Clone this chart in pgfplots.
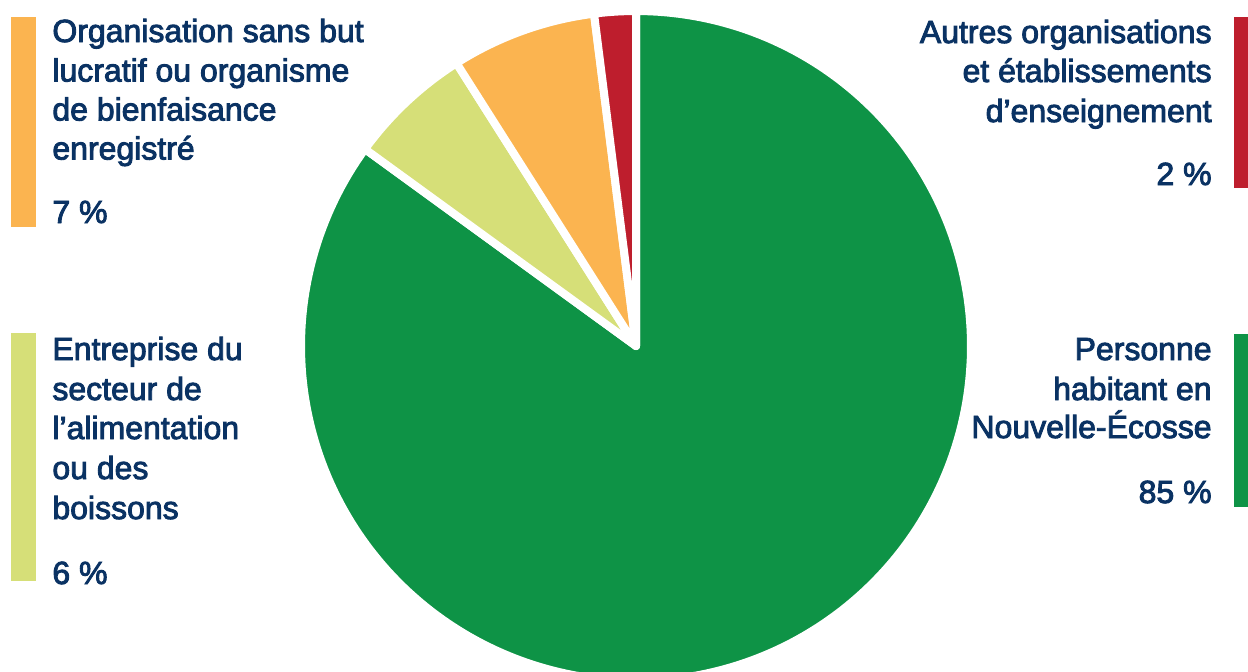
\documentclass[border=0pt]{standalone}
\usepackage{pgfplots}
\pgfplotsset{compat=1.18}
\usepackage{fontspec}
\setmainfont{Liberation Sans}
\newfontfamily\lbl{Liberation Sans}[FakeBold=2.8]
\definecolor{cGreen}{HTML}{0E9346}
\definecolor{cYellow}{HTML}{D6DF78}
\definecolor{cOrange}{HTML}{FBB450}
\definecolor{cRed}{HTML}{BE1E2D}
\definecolor{cText}{HTML}{0A3263}
\tikzset{lab/.style={font={\lbl\fontsize{16}{20}\selectfont}, text=cText, inner sep=0pt}}
% shares (%)
\def\pGreen{85}
\def\pYellow{6}
\def\pOrange{7}
\def\pRed{2}
\begin{document}
\begin{tikzpicture}
\pgfmathsetmacro\aA{90}
\pgfmathsetmacro\aB{\aA-\pGreen*3.6}
\pgfmathsetmacro\aC{\aB-\pYellow*3.6}
\pgfmathsetmacro\aD{\aC-\pOrange*3.6}
\pgfmathsetmacro\aE{\aD-\pRed*3.6}
\begin{axis}[
  width=624pt, height=335.5pt, scale only axis,
  xmin=0, xmax=1248, ymin=0, ymax=671, y dir=reverse,
  hide axis, clip=true,
]
\path (axis cs:0,0) rectangle (axis cs:1248,671);
\addplot[draw=white, line width=4pt, line join=round, fill=cGreen, domain=\aA:\aB, samples=240]
  ({636+335*cos(x)}, {346-335*sin(x)}) -- (axis cs:636,346) -- cycle;
\addplot[draw=white, line width=4pt, line join=round, fill=cYellow, domain=\aB:\aC, samples=40]
  ({636+335*cos(x)}, {346-335*sin(x)}) -- (axis cs:636,346) -- cycle;
\addplot[draw=white, line width=4pt, line join=round, fill=cOrange, domain=\aC:\aD, samples=40]
  ({636+335*cos(x)}, {346-335*sin(x)}) -- (axis cs:636,346) -- cycle;
\addplot[draw=white, line width=4pt, line join=round, fill=cRed, domain=\aD:\aE, samples=20]
  ({636+335*cos(x)}, {346-335*sin(x)}) -- (axis cs:636,346) -- cycle;

% swatches
\fill[cOrange] (axis cs:11,17) rectangle (axis cs:36,227);
\fill[cYellow] (axis cs:11,333) rectangle (axis cs:36,581);
\fill[cRed] (axis cs:1234,17) rectangle (axis cs:1248,188);
\fill[cGreen] (axis cs:1234,334) rectangle (axis cs:1248,507);

% top-left
\node[lab, anchor=base west] at (axis cs:52,42) {Organisation sans but};
\node[lab, anchor=base west] at (axis cs:52,81.5) {lucratif ou organisme};
\node[lab, anchor=base west] at (axis cs:52,120.5) {de bienfaisance};
\node[lab, anchor=base west] at (axis cs:52,159.5) {enregistré};
\node[lab, anchor=base west] at (axis cs:52,223) {7 \%};
% mid-left
\node[lab, anchor=base west] at (axis cs:52,360) {Entreprise du};
\node[lab, anchor=base west] at (axis cs:52,400) {secteur de};
\node[lab, anchor=base west] at (axis cs:52,439) {l’alimentation};
\node[lab, anchor=base west] at (axis cs:52,479) {ou des};
\node[lab, anchor=base west] at (axis cs:52,519) {boissons};
\node[lab, anchor=base west] at (axis cs:52,584) {6 \%};
% top-right
\node[lab, anchor=base east] at (axis cs:1212,43) {Autres organisations};
\node[lab, anchor=base east] at (axis cs:1212,82) {et établissements};
\node[lab, anchor=base east] at (axis cs:1212,122) {d’enseignement};
\node[lab, anchor=base east] at (axis cs:1212,185) {2 \%};
% mid-right
\node[lab, anchor=base east] at (axis cs:1212,360) {Personne};
\node[lab, anchor=base east] at (axis cs:1212,400) {habitant en};
\node[lab, anchor=base east] at (axis cs:1212,438) {Nouvelle-Écosse};
\node[lab, anchor=base east] at (axis cs:1212,503) {85 \%};
\end{axis}
\end{tikzpicture}
\end{document}
